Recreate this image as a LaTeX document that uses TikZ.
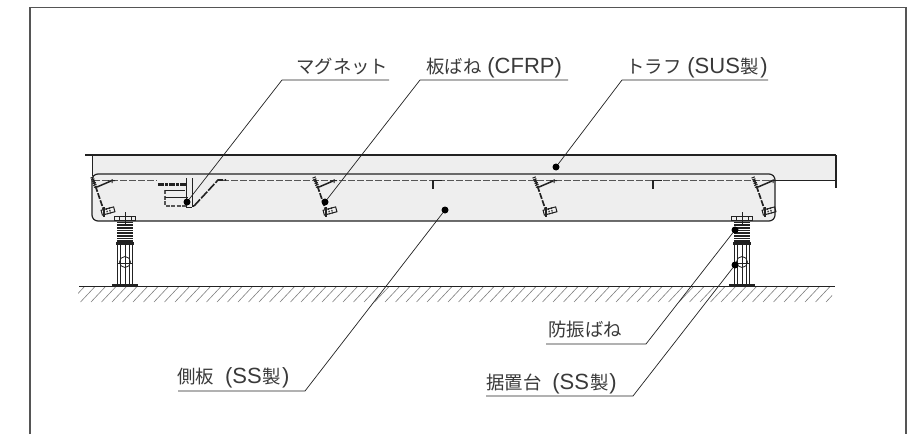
\documentclass[tikz,border=0pt]{standalone}
\usepackage{fontspec}
\setmainfont{Noto Sans CJK JP}
\newfontfamily\latf{Liberation Sans}
\newcommand{\lat}[1]{{\fontsize{22pt}{24pt}\latf #1}}
\definecolor{fillg}{HTML}{EEEEEE}
\definecolor{ink}{HTML}{222222}
\definecolor{framec}{HTML}{555555}
\definecolor{txtc}{HTML}{3A3A3A}
\tikzset{
 lead/.style={draw=ink,line width=0.7pt},
 dotn/.style={circle,fill=black,inner sep=0pt,minimum size=7pt},
 lab/.style={font=\fontsize{18.4pt}{20pt}\selectfont,text=txtc,inner sep=0pt,anchor=base west},
 hw/.style={draw=ink,line width=0.8pt},
 hv/.style={draw=ink,line width=1.7pt},
 hookp/.pic={\draw[draw=ink,line width=1.7pt] (0,8) -- (0,0) -- (9,0);},
 leafs/.pic={
  \draw[hv,dash pattern=on 6pt off 1.5pt] (0,0) -- (11,32);
  \draw[draw=ink,line width=1.5pt] (4,8) -- (18,2);
  \draw[draw=ink,line width=1pt] (15,2)--(22,1.5) (19,0)--(19,4);
  \draw[draw=ink,line width=3.5pt,dash pattern=on 1pt off 1pt] (-1,-2) -- (3,9);
  \begin{scope}[shift={(15,32)},rotate=15]
   \draw[draw=ink,line width=1pt] (-6.5,-2.5) rectangle (6.5,2.5);
   \draw[draw=ink,line width=1.2pt,dash pattern=on 1.5pt off 1pt] (-4,-3) -- (-4,3) (-1,-3) -- (-1,3) (2,-3) -- (2,3);
  \end{scope}
  \draw[draw=ink,line width=1.2pt] (11,28)--(11,38);
 },
 standp/.pic={
  \draw[hw] (-10.5,-1) rectangle (10.5,3);
  \draw[hw] (-6,-1) -- (-6,3) (6,-1) -- (6,3);
  \draw[hw] (0,-5)--(0,8);
  \foreach \k in {0,...,7}{\draw[draw=ink,line width=1.6pt] (-8,5.5+\k*2.65) -- (8,5.5+\k*2.65);}
  \draw[draw=ink,line width=2.2pt] (-9,26.5)--(9,26.5);
  \draw[hw] (-7.5,27)--(-7.5,68) (7.5,27)--(7.5,68) (-4.5,27)--(-4.5,68) (0,27)--(0,70) (4.5,27)--(4.5,68);
  \draw[hw] (0,45) circle (5.5);
  \draw[hw] (-7.5,46)--(7.5,46);
  \draw[draw=ink,line width=2.4pt] (-13,68.5)--(13,68.5);
 }
}
\begin{document}
\begin{tikzpicture}[x=1pt,y=-1pt]
\useasboundingbox (0,0) rectangle (909,434);
\fill[white] (0,0) rectangle (909,434);
% frame
\draw[draw=framec,line width=1.1pt] (30,434) -- (30,7.5) -- (906,7.5) -- (906,434);
% hatch
\begin{scope}
\clip (78,286) rectangle (832,302);
\foreach \i in {0,...,72}{\draw[draw=gray,line width=0.6pt] (70+\i*10.5,302) -- (70+\i*10.5+15,286);}
\end{scope}
\draw[draw=ink,line width=1pt] (79,286) -- (835,286);
% trough
\path[fill=fillg] (92,155) rectangle (836,180);
\draw[draw=ink,line width=1.4pt] (85,155) -- (836,155);
\draw[draw=ink,line width=0.8pt] (92,155) -- (92,176);
\draw[draw=ink,line width=1.4pt] (836,155) -- (836,188);
\draw[draw=ink,line width=1pt] (775,180) -- (836,180);
% side plate
\draw[draw=ink,fill=fillg,line width=1.2pt,rounded corners=6pt] (92,174) rectangle (775,221);
\draw[draw=framec,line width=1pt,dash pattern=on 7pt off 2pt] (93,180) -- (157,180);
\draw[draw=framec,line width=1pt,dash pattern=on 7pt off 2pt] (222,180) -- (773,180);
% magnet
\draw[draw=ink,line width=3pt,dash pattern=on 6pt off 1pt on 3pt off 1pt] (158,184) -- (187,184);
\draw[draw=framec,line width=2pt,dash pattern=on 4pt off 1.5pt] (165,190) -- (165,206) -- (187,206);
\draw[hw] (165,190)--(185,190) (165,197)--(188,197);
\draw[hw] (186,178)--(186,207) (192,178)--(192,207) (186,207)--(192,207);
\draw[draw=ink,line width=1.5pt] (192,206) -- (194,206);
\draw[draw=ink,line width=1.6pt,dash pattern=on 9pt off 1.5pt] (194,206) -- (218,180) -- (226,180);
% leaf springs
\path (93,179) pic {leafs} (315,179) pic {leafs} (535,179) pic {leafs} (754,179) pic {leafs};
% hooks
\path (433,180.5) pic {hookp} (653,180.5) pic {hookp};
% stands
\path (125,217) pic {standp} (742,217) pic {standp};
% leaders
\node[dotn] (dmag) at (187,202) {};
\node[dotn] (dleaf) at (325,202) {};
\node[dotn] (dtr) at (556,167) {};
\node[dotn] (dside) at (445,210) {};
\node[dotn] (dspr) at (735,230) {};
\node[dotn] (dbase) at (735,265) {};
\node[lab] (tmag) at (296,73) {マグネット};
\node[lab] (tleaf) at (426,73) {板ばね\hspace{6pt}\lat{(CFRP)}};
\node[lab] (ttr) at (626,73) {トラフ\hspace{6pt}\lat{(SUS}\hspace{1pt}製\hspace{1pt}\lat{)}};
\node[lab] (tside) at (177,383) {側板\hspace{11pt}\lat{(SS}\hspace{1pt}製\hspace{1pt}\lat{)}};
\node[lab] (tspr) at (548,336) {防振ばね};
\node[lab] (tbase) at (486,389) {据置台\hspace{11pt}\lat{(SS}\hspace{1pt}製\hspace{1pt}\lat{)}};
\coordinate (emag) at (389,80); \coordinate (cmag) at (282,80);
\coordinate (eleaf) at (568,80); \coordinate (cleaf) at (420,80);
\coordinate (etr) at (768,80); \coordinate (ctr) at (622,80);
\coordinate (eside) at (305,391); \coordinate (sside) at (178,391);
\coordinate (espr) at (646,344); \coordinate (sspr) at (546,344);
\coordinate (ebase) at (633,396); \coordinate (sbase) at (486,396);
\draw[lead] (dmag) -- (cmag) -- (emag);
\draw[lead] (dleaf) -- (cleaf) -- (eleaf);
\draw[lead] (dtr) -- (ctr) -- (etr);
\draw[lead] (dside) -- (eside) -- (sside);
\draw[lead] (dspr) -- (espr) -- (sspr);
\draw[lead] (dbase) -- (ebase) -- (sbase);
\end{tikzpicture}
\end{document}
